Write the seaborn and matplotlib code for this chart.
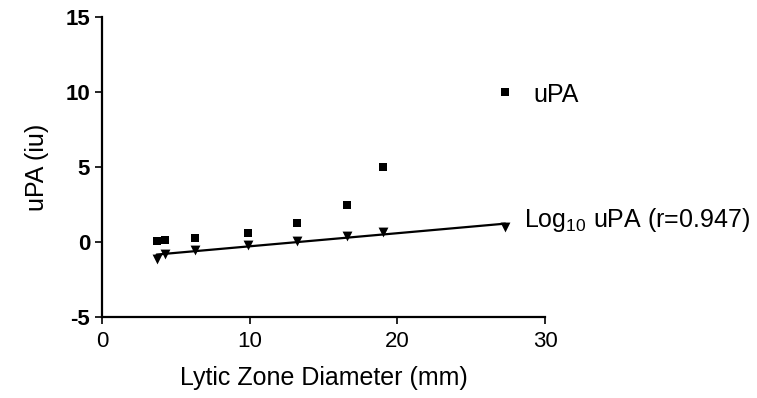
import matplotlib
matplotlib.use("Agg")
import matplotlib.pyplot as plt
import seaborn as sns
import pandas as pd

# Lytic zone diameters (mm) and uPA standards (iu)
diameter = [3.7, 4.25, 6.3, 9.9, 13.2, 16.6, 19.0, 27.3]
upa = [0.08, 0.16, 0.31, 0.63, 1.25, 2.5, 5.0, 10.0]
log_upa = [-1.1, -0.8, -0.5, -0.2, 0.1, 0.4, 0.7, 1.0]

x_ticks = [0, 10, 20, 30]
y_ticks = [-5, 0, 5, 10, 15]

sns.set_style("ticks")
plt.rcParams["font.family"] = ["Liberation Sans", "DejaVu Sans"]
plt.rcParams["mathtext.fontset"] = "custom"
plt.rcParams["mathtext.rm"] = "Liberation Sans"
plt.rcParams["mathtext.it"] = "Liberation Sans:italic"
plt.rcParams["axes.unicode_minus"] = False
plt.rcParams["text.color"] = "black"
plt.rcParams["axes.labelcolor"] = "black"

df = pd.DataFrame({"diameter": diameter, "upa": upa, "log_upa": log_upa})

fig = plt.figure(figsize=(7.57, 3.98), dpi=100)
ax = fig.add_axes([0.1347, 0.2028, 0.5853, 0.7542])

sns.scatterplot(data=df, x="diameter", y="upa", marker="s", s=32,
                color="black", edgecolor="black", linewidth=0, ax=ax)
sns.regplot(data=df, x="diameter", y="log_upa", ci=None, marker="v",
            color="black", ax=ax,
            scatter_kws={"s": 50, "linewidths": 0, "alpha": 1},
            line_kws={"linewidth": 1.6})

ax.set_xlim(0, 30)
ax.set_ylim(-5, 15)
ax.set_xticks(x_ticks)
ax.set_yticks(y_ticks)
ax.tick_params(axis="both", direction="out", length=5, width=1.2,
               labelsize=16, colors="black")
ax.tick_params(axis="x", pad=5)
for lab in ax.get_yticklabels():
    lab.set_fontweight("bold")
for side in ("top", "right"):
    ax.spines[side].set_visible(False)
for side in ("left", "bottom"):
    ax.spines[side].set_linewidth(1.6)
    ax.spines[side].set_color("black")

ax.set_xlabel("Lytic Zone Diameter (mm)", fontsize=18, labelpad=10)
ax.set_ylabel("uPA (iu)", fontsize=18, labelpad=12)

ax.text(29.2, 9.37, "uPA", fontsize=18, va="baseline", ha="left",
        clip_on=False)
ax.text(28.6, 1.04, "Log$_{10}$ uPA (r=0.947)", fontsize=18,
        va="baseline", ha="left", clip_on=False)

fig.savefig("out.png", dpi=100)
